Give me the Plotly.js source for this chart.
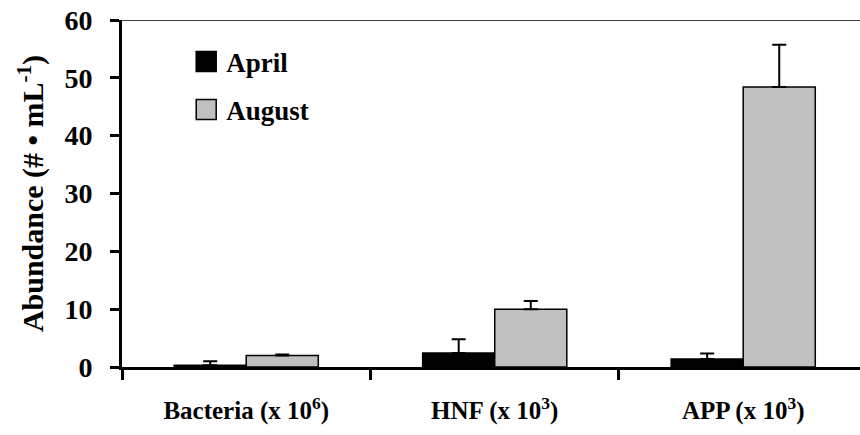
<!DOCTYPE html>
<html>
<head>
<meta charset="utf-8">
<script src="https://cdn.plot.ly/plotly-3.0.1.min.js"></script>
<style>html,body{margin:0;padding:0;background:#fff;}#chart{width:860px;height:435px;}</style>
</head>
<body>
<div id="chart"></div>
<script>
var categories = ["Bacteria (x 10<sup>6</sup>)", "HNF (x 10<sup>3</sup>)", "APP (x 10<sup>3</sup>)"];
var aprilValues = [0.3, 2.4, 1.4];
var aprilErrors = [0.7, 2.4, 0.95];
var augustValues = [2.0, 10.0, 48.4];
var augustErrors = [0.15, 1.4, 7.3];
var zeros = [0, 0, 0];
var yTicks = [0, 10, 20, 30, 40, 50, 60];

var FONT = "Liberation Serif";

var april = {
  type: "bar", name: "April", x: categories, y: aprilValues,
  legendgroup: "a",
  marker: {color: "#000000", line: {color: "#000000", width: 1.5}},
  error_y: {type: "data", array: aprilErrors, arrayminus: zeros, symmetric: false,
            color: "#000000", thickness: 2, width: 7}
};
var august = {
  type: "bar", name: "August", x: categories, y: augustValues,
  legendgroup: "b",
  marker: {color: "#c0c0c0", line: {color: "#000000", width: 1.5}},
  error_y: {type: "data", array: augustErrors, arrayminus: zeros, symmetric: false,
            color: "#000000", thickness: 2, width: 7}
};

var layout = {
  width: 860, height: 435,
  margin: {l: 122, r: 0, t: 20, b: 68, pad: 0},
  paper_bgcolor: "#ffffff", plot_bgcolor: "#ffffff",
  font: {family: FONT, color: "#000000", weight: 700},
  barmode: "group", bargap: 0.42, bargroupgap: 0,
  showlegend: true,
  legend: {x: 0.087, y: 0.95, xanchor: "left", yanchor: "top",
           bgcolor: "rgba(0,0,0,0)", font: {family: FONT, size: 27, weight: 700, color: "#000"},
           tracegroupgap: 10, traceorder: "grouped"},
  xaxis: {
    type: "category", range: [-0.5, 2.47],
    showline: true, linecolor: "#000", linewidth: 3,
    ticks: "outside", tickson: "boundaries", ticklen: 10, tickwidth: 3, tickcolor: "#000",
    showgrid: false, zeroline: false, fixedrange: true,
    tickfont: {family: FONT, size: 25, weight: 700, color: "#000"},
    ticklabelstandoff: 19
  },
  yaxis: {
    range: [0, 60], tickvals: yTicks, ticktext: yTicks.map(String),
    showline: true, linecolor: "#000", linewidth: 3,
    ticks: "outside", ticklen: 9, tickwidth: 3, tickcolor: "#000",
    showgrid: false, zeroline: false, fixedrange: true,
    tickfont: {family: FONT, size: 28, weight: 700, color: "#000"},
    ticklabelstandoff: 12,
    title: {text: "Abundance (# \u2022 mL<sup>-1</sup>)", standoff: 12,
            font: {family: FONT, size: 30, weight: 700, color: "#000"}}
  },
  shapes: [{type: "line", xref: "paper", yref: "y", x0: 0, x1: 1, y0: 60, y1: 60,
            line: {color: "#000", width: 1.5}}]
};

Plotly.newPlot("chart", [april, august], layout, {staticPlot: true, displayModeBar: false}).then(function () {
  // make the legend swatches the larger squares seen in the reference
  document.querySelectorAll("#chart .legend .legendpoints path").forEach(function (p) {
    p.setAttribute("d", "M10,10H-10V-10H10Z");
  });
});
</script>
</body>
</html>
